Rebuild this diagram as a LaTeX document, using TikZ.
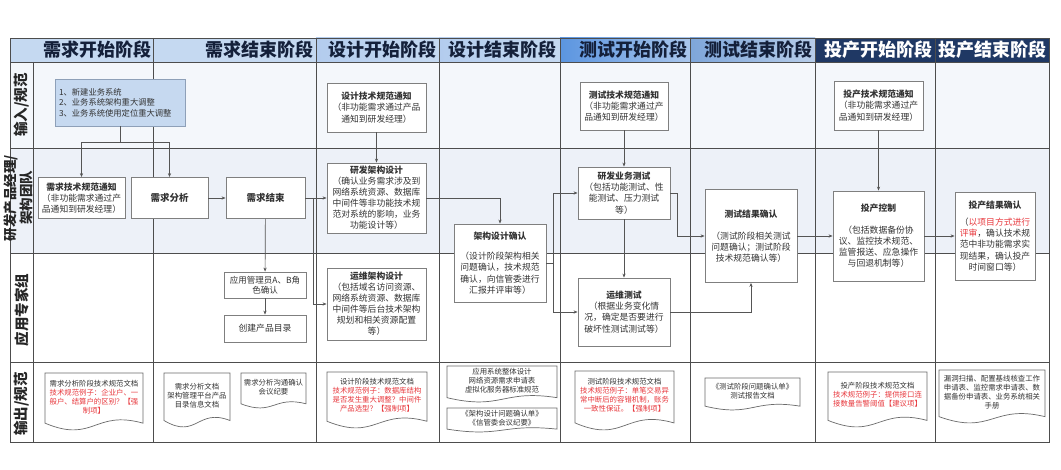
\documentclass[tikz,border=0pt]{standalone}
\usepackage{fontspec}
\setmainfont{Noto Sans CJK SC}
\usetikzlibrary{arrows.meta}
\definecolor{rowA}{HTML}{F4F7FB}
\definecolor{rowB}{HTML}{EDF1F8}
\definecolor{gridgray}{HTML}{4D4D4D}
\definecolor{linegray}{HTML}{555555}
\definecolor{boxline}{HTML}{7F7F7F}
\definecolor{txt}{HTML}{333333}
\definecolor{docgray}{HTML}{6B6B6B}
\definecolor{redtxt}{HTML}{E8383D}
\definecolor{bluebox}{HTML}{C6D9F0}
\definecolor{blueline}{HTML}{8EA0B8}
\definecolor{hdrL}{HTML}{C5D9F1}
\definecolor{hdrLd}{HTML}{B3CCEE}
\definecolor{hdrM}{HTML}{5B95E0}
\definecolor{hdrMl}{HTML}{A9C6EC}
\definecolor{hdrMM}{HTML}{7EA6DA}
\definecolor{hdrMMl}{HTML}{B7CDE9}
\definecolor{hdrD}{HTML}{1F3864}
\definecolor{hdrtxt}{HTML}{14203A}
\newcommand{\rd}[1]{\textcolor{redtxt}{#1}}
\newcommand{\mydoc}[6]{%
  \pgfmathsetmacro{\dcW}{#4-#2}%
  \pgfmathsetmacro{\dcA}{0.12*(#5-#3)}%
  \pgfmathsetmacro{\dcY}{(#3+#5-1.4*\dcA)/2}%
  \pgfmathsetmacro{\dcX}{(#2+#4)/2}%
  \draw[docline] (#2,#3) -- (#4,#3) -- (#4,{#5-\dcA}) .. controls ({#4-0.5*\dcW},{#5-3*\dcA}) and ({#2+0.5*\dcW},{#5+2*\dcA}) .. (#2,{#5-\dcA}) -- cycle;
  \node[doctext] (#1) at (\dcX,\dcY) {#6};
}
\tikzset{
 conn/.style={draw=linegray, line width=0.7pt},
 arr/.style={conn, -{Stealth[length=4pt,width=3.2pt]}},
 box/.style={draw=boxline, fill=white, line width=0.8pt, align=center, inner sep=1pt, text=txt, font=\fontsize{8.8}{11.2}\selectfont},
 docline/.style={draw=docgray, fill=white, line width=0.7pt},
 doctext/.style={align=center, inner sep=0pt, text=txt, font=\fontsize{7.4}{9}\selectfont},
 hdr/.style={font=\fontsize{18}{20}\selectfont\bfseries, inner sep=0pt, text=hdrtxt},
 rowlab/.style={rotate=90, font=\fontsize{14.5}{16}\selectfont\bfseries, inner sep=0pt, align=center, text=black!85},
 grid/.style={draw=gridgray, line width=0.9pt},
}
\begin{document}
\begin{tikzpicture}[x=1pt,y=-1pt]
\useasboundingbox (0,0) rectangle (1061,470);
\fill[white] (0,0) rectangle (1061,470);
% row backgrounds
\fill[rowA] (10,62) rectangle (1049,148);
\fill[rowB] (10,148) rectangle (1049,253);
% header backgrounds
\fill[hdrL] (10,38) rectangle (316,62);
\shade[left color=hdrLd, right color=hdrL] (316,38) rectangle (439,62);
\shade[left color=hdrLd, right color=hdrL] (439,38) rectangle (560,62);
\shade[left color=hdrM, right color=hdrMl] (560,38) rectangle (690,62);
\shade[left color=hdrMM, right color=hdrMMl] (690,38) rectangle (815,62);
\fill[hdrD] (815,38) rectangle (1049,62);
% grid
\draw[grid] (10,38) rectangle (1049,442);
\draw[grid] (10,62) -- (1049,62);
\draw[grid] (10,148) -- (1049,148);
\draw[grid] (10,253) -- (1049,253);
\draw[grid] (10,362) -- (1049,362);
\draw[grid] (33,62) -- (33,442);
\foreach \xx in {153,316,439,560,690,815,935} {\draw[grid] (\xx,38) -- (\xx,442);}
% headers
\node[hdr] (h1) at (97,50) {需求开始阶段};
\node[hdr] (h2) at (259,50) {需求结束阶段};
\node[hdr] (h3) at (382,50) {设计开始阶段};
\node[hdr] (h4) at (502,50) {设计结束阶段};
\node[hdr] (h5) at (633,50) {测试开始阶段};
\node[hdr] (h6) at (758,50) {测试结束阶段};
\node[hdr, text=white] (h7) at (878,50) {投产开始阶段};
\node[hdr, text=white] (h8) at (992,50) {投产结束阶段};
% row labels
\node[rowlab] (r1) at (21.5,105) {输入/规范};
\node[rowlab, font=\fontsize{13.5}{16}\selectfont\bfseries] (r2) at (18,198) {研发产品经理/\\架构团队};
\node[rowlab] (r3) at (21.5,310) {应用专家组};
\node[rowlab] (r4) at (21.5,404) {输出/规范};
% boxes
\node[box, fill=bluebox, draw=blueline, minimum width=130pt, minimum height=47pt, text width=122pt, align=left, font=\fontsize{8.3}{10.5}\selectfont] (n0) at (120,102.5) {1、新建业务系统\\2、业务系统架构重大调整\\3、业务系统使用定位重大调整};
\node[box, minimum width=87pt, minimum height=41pt] (xqtz) at (81.5,198) {\textbf{需求技术规范通知}\\（非功能需求通过产\\品通知到研发经理）};
\node[box, minimum width=77pt, minimum height=41pt, font=\fontsize{9.5}{11}\selectfont] (xqfx) at (169.5,198) {\textbf{需求分析}};
\node[box, minimum width=79pt, minimum height=41pt, font=\fontsize{9.5}{11}\selectfont] (xqjs) at (265.5,198) {\textbf{需求结束}};
\node[box, minimum width=82pt, minimum height=26pt, font=\fontsize{8.5}{10.5}\selectfont] (yyqr) at (265,285) {应用管理员A、B角\\色确认};
\node[box, minimum width=82pt, minimum height=27pt] (cjml) at (265,328.5) {创建产品目录};
\node[box, minimum width=99pt, minimum height=49pt] (sjtz) at (376.5,107.5) {\textbf{设计技术规范通知}\\（非功能需求通过产品\\通知到研发经理）};
\node[box, minimum width=99pt, minimum height=70pt, font=\fontsize{8.8}{11}\selectfont] (yfjg) at (376.5,198) {\textbf{研发架构设计}\\（确认业务需求涉及到\\网络系统资源、数据库\\中间件等非功能技术规\\范对系统的影响，业务\\功能设计等）};
\node[box, minimum width=99pt, minimum height=72pt, font=\fontsize{8.8}{11}\selectfont] (ywjg) at (376.5,304) {\textbf{运维架构设计}\\（包括域名访问资源、\\网络系统资源、数据库\\中间件等后台技术架构\\规划和相关资源配置\\等）};
\node[box, minimum width=92pt, minimum height=78pt] (jgqr) at (500,263) {\textbf{架构设计确认}\\[9pt]（设计阶段架构相关\\问题确认，技术规范\\确认，向信管委进行\\汇报并评审等）};
\node[box, minimum width=88pt, minimum height=48pt] (cstz) at (624,106) {\textbf{测试技术规范通知}\\（非功能需求通过产\\品通知到研发经理）};
\node[box, minimum width=92pt, minimum height=52pt] (yfcs) at (624,193) {\textbf{研发业务测试}\\（包括功能测试、性\\能测试、压力测试\\等）};
\node[box, minimum width=92pt, minimum height=68pt] (ywcs) at (624,312) {\textbf{运维测试}\\（根据业务变化情\\况，确定是否要进行\\破坏性测试测试等）};
\node[box, minimum width=92pt, minimum height=93pt] (csqr) at (751,236) {\textbf{测试结果确认}\\[11pt]（测试阶段相关测试\\问题确认；测试阶段\\技术规范确认等）};
\node[box, minimum width=89pt, minimum height=49pt] (tctz) at (878.5,105.5) {\textbf{投产技术规范通知}\\（非功能需求通过产\\品通知到研发经理）};
\node[box, minimum width=91pt, minimum height=90pt] (tckz) at (878.5,236) {\textbf{投产控制}\\[10pt]（包括数据备份协\\议、监控技术规范、\\监管报送、应急操作\\与回退机制等）};
\node[box, minimum width=80pt, minimum height=88pt] (tcqr) at (995,236) {\textbf{投产结果确认}\\[6pt]（\rd{以项目方式进行}\\\rd{评审}，确认技术规\\范中非功能需求实\\现结果，确认投产\\时间窗口等）};
% connectors
\coordinate (b0) at (120,142);
\draw[conn] (n0.south) -- (b0);
\draw[arr] (b0) -| (xqtz.north);
\draw[arr] (b0) -| (xqfx.north);
\draw[arr] (xqfx) -- (xqjs);
\draw[arr] (xqjs) -- (yyqr);
\draw[arr] (yyqr) -- (cjml);
\coordinate (j1) at (313,198);
\draw[conn] (xqjs.east) -- (j1);
\draw[arr] (j1) -- (yfjg.west);
\draw[arr] (j1) |- (ywjg.west);
\draw[arr] (sjtz) -- (yfjg);
\draw[arr] (yfjg.east) -| (jgqr.north);
\coordinate (j2) at (553,263);
\draw[conn] (jgqr.east) -- (j2);
\draw[arr] (j2) |- (yfcs.west);
\draw[arr] (j2) |- (ywcs.west);
\draw[arr] (cstz) -- (yfcs);
\draw[arr] (yfcs) -- (ywcs);
\coordinate (j3) at (677,193);
\draw[arr] (yfcs.east) -- (j3) |- (csqr.west);
\draw[arr] (ywcs.east) -| (csqr.south);
\draw[arr] (csqr) -- (tckz);
\draw[arr] (tctz) -- (tckz);
\draw[arr] (tckz) -- (tcqr);
% documents
\mydoc{d1}{45}{373}{143}{430}{需求分析阶段技术规范文档\\\rd{技术规范例子：企业户、一}\\\rd{般户、结算户的区别？【强}\\\rd{制项】}}
\mydoc{d2}{164}{373}{230}{427}{需求分析文档\\架构管理平台产品\\目录信息文档}
\mydoc{d3}{241}{373}{306}{408}{需求分析沟通确认\\会议纪要}
\mydoc{d4}{327}{372}{427}{428}{设计阶段技术规范文档\\\rd{技术规范例子：数据库结构}\\\rd{是否发生重大调整？中间件}\\\rd{产品选型？【强制项】}}
\mydoc{d5}{447}{366}{557}{402}{应用系统整体设计\\网络资源需求申请表\\虚拟化服务器标准规范}
\mydoc{d6}{447}{408}{557}{432}{《架构设计问题确认单》\\《信管委会议纪要》}
\mydoc{d7}{575}{371}{674}{430}{测试阶段技术规范文档\\\rd{技术规范例子：单笔交易异}\\\rd{常中断后的容错机制，账务}\\\rd{一致性保证。【强制项】}}
\mydoc{d8}{705}{378}{800}{410}{《测试阶段问题确认单》\\测试报告文档}
\mydoc{d9}{828}{372}{927}{427}{投产阶段技术规范文档\\\rd{技术规范例子：提供接口连}\\\rd{接数量告警阈值【建议项】}}
\mydoc{d10}{939}{370}{1045}{423}{漏洞扫描、配置基线核查工作\\申请表、监控需求申请表、数\\据备份申请表、业务系统相关\\手册}
\end{tikzpicture}
\end{document}
